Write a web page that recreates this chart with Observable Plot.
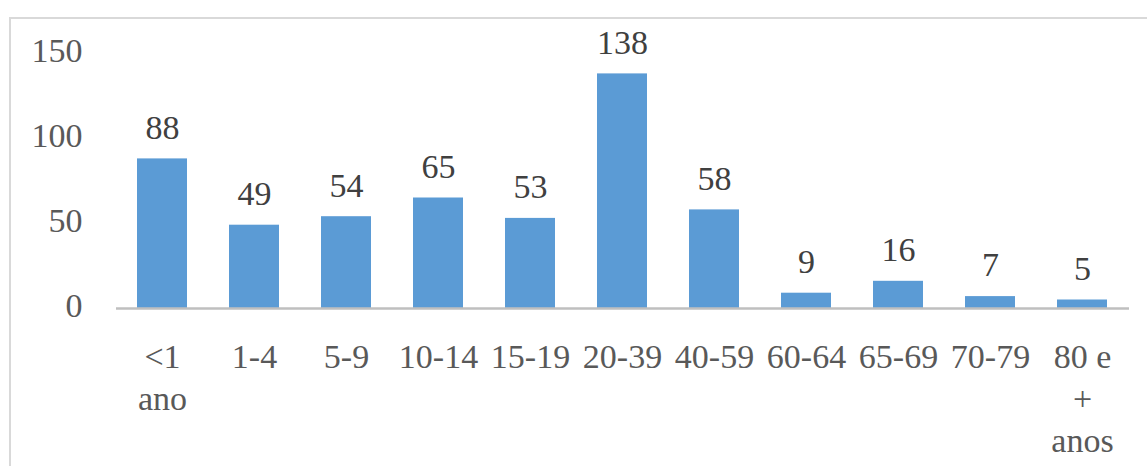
<!DOCTYPE html>
<html>
<head>
<meta charset="utf-8">
<script src="https://cdn.jsdelivr.net/npm/d3@7"></script>
<script src="https://cdn.jsdelivr.net/npm/@observablehq/plot@0.6"></script>
<style>
  html, body { margin: 0; padding: 0; background: #fff; overflow: hidden; }
  #wrap { position: relative; width: 1147px; height: 466px; }
  #border { position: absolute; left: 9px; top: 17px; width: 1160px; height: 480px;
            border: 2px solid #d9d9d9; box-sizing: border-box; }
  #chart { position: absolute; left: 0; top: 0; }
</style>
</head>
<body>
<div id="wrap"><div id="border"></div><div id="chart"></div></div>
<script>
const categories = ["<1 ano", "1-4", "5-9", "10-14", "15-19", "20-39", "40-59", "60-64", "65-69", "70-79", "80 e + anos"];
const tickLabels = ["<1\nano", "1-4", "5-9", "10-14", "15-19", "20-39", "40-59", "60-64", "65-69", "70-79", "80 e\n+\nanos"];
const values = [88, 49, 54, 65, 53, 138, 58, 9, 16, 7, 5];
const yTicks = [0, 50, 100, 150];

const data = categories.map((c, i) => ({category: c, value: values[i]}));
const labelOf = new Map(categories.map((c, i) => [c, tickLabels[i]]));

const chart = Plot.plot({
  width: 1147,
  height: 466,
  marginLeft: 116,
  marginRight: 18,
  marginTop: 53,
  marginBottom: 158,
  style: {fontFamily: "'Liberation Serif', 'Times New Roman', serif", fontSize: "34px", background: "transparent", overflow: "visible"},
  x: {domain: categories, paddingInner: 0.455, paddingOuter: 0.2275, label: null},
  y: {domain: [0, 150], label: null},
  marks: [
    Plot.barY(data, {x: "category", y: "value", fill: "#5b9bd5"}),
    Plot.ruleY([0], {stroke: "#bfbfbf", strokeWidth: 2.5}),
    Plot.text(data, {x: "category", y: "value", text: d => String(d.value), dy: -31, lineAnchor: "middle", fill: "#404040", fontSize: 34}),
    Plot.axisY({ticks: yTicks, tickSize: 0, tickPadding: 34, label: null, color: "#595959", fontSize: 34, dy: -2}),
    Plot.axisX({tickSize: 0, tickPadding: 30, label: null, tickFormat: c => labelOf.get(c), lineHeight: 1.23, color: "#595959", fontSize: 34})
  ]
});
document.getElementById("chart").appendChild(chart);
</script>
</body>
</html>
